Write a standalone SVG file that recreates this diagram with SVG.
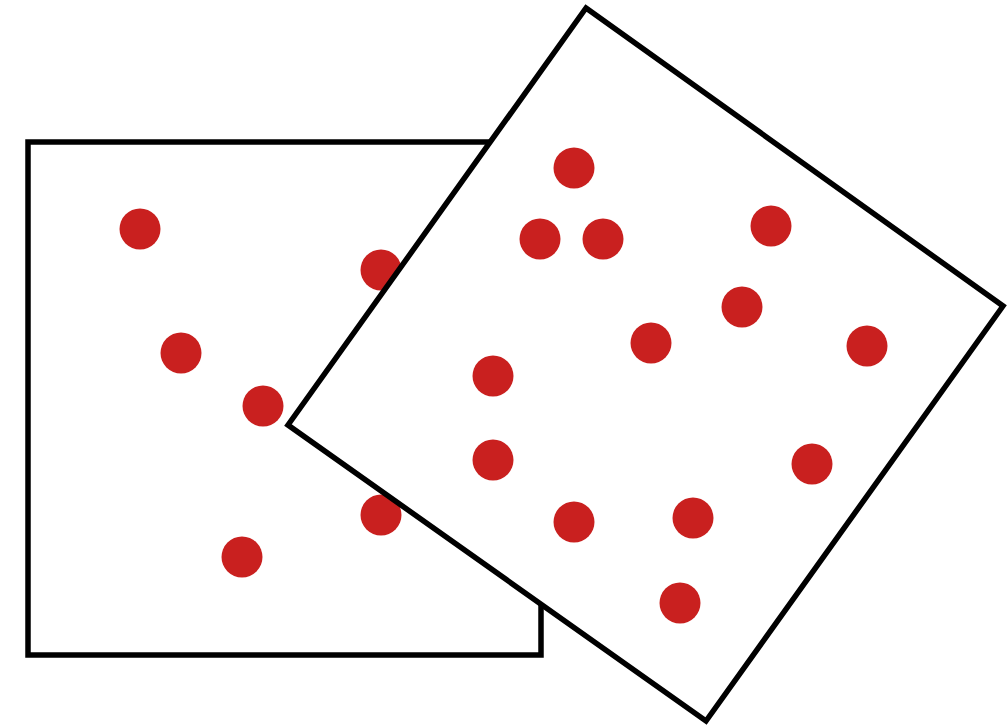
<svg xmlns="http://www.w3.org/2000/svg" width="1007" height="728" viewBox="0 0 1007 728">
<style>
.sq{fill:#fff;stroke:#000;stroke-width:5.5;stroke-linejoin:miter}
.d{fill:#c9201f}
</style>
<rect width="1007" height="728" fill="#fff"/>
<g id="square-left">
<rect class="sq" x="28" y="142" width="513" height="513"/>
<circle class="d" cx="140" cy="229" r="20.5"/>
<circle class="d" cx="181" cy="353" r="20.5"/>
<circle class="d" cx="263" cy="406" r="20.5"/>
<circle class="d" cx="242" cy="557" r="20.5"/>
<circle class="d" cx="381" cy="270" r="20.5"/>
<circle class="d" cx="381" cy="515" r="20.5"/>
</g>
<g id="square-rotated">
<polygon class="sq" points="586,8 1003,306 706,721 288,425"/>
<circle class="d" cx="574" cy="168" r="20.5"/>
<circle class="d" cx="540" cy="239" r="20.5"/>
<circle class="d" cx="603" cy="239" r="20.5"/>
<circle class="d" cx="771" cy="226" r="20.5"/>
<circle class="d" cx="742" cy="307" r="20.5"/>
<circle class="d" cx="651" cy="343" r="20.5"/>
<circle class="d" cx="867" cy="346" r="20.5"/>
<circle class="d" cx="493" cy="376" r="20.5"/>
<circle class="d" cx="493" cy="460" r="20.5"/>
<circle class="d" cx="812" cy="464" r="20.5"/>
<circle class="d" cx="574" cy="522" r="20.5"/>
<circle class="d" cx="693" cy="518" r="20.5"/>
<circle class="d" cx="680" cy="603" r="20.5"/>
</g>
</svg>
